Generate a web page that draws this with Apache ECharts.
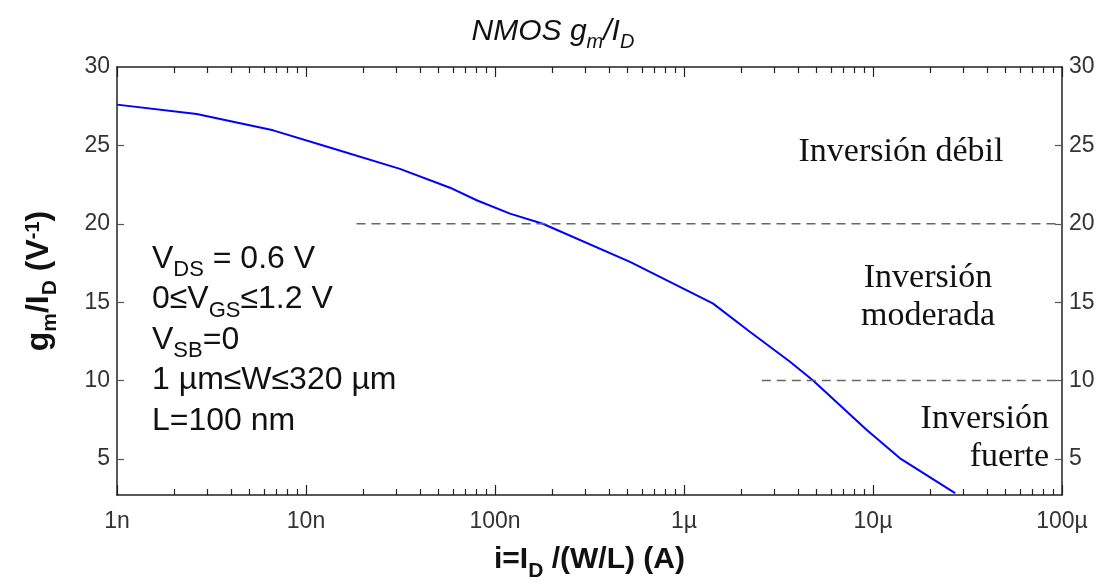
<!DOCTYPE html>
<html lang="es">
<head>
<meta charset="UTF-8">
<title>NMOS gm/ID</title>
<script src="https://cdn.jsdelivr.net/npm/echarts@6/dist/echarts.min.js"></script>
<style>html,body{margin:0;background:#fff;}</style>
</head>
<body>
<div id="main" style="width:1106px;height:584px;"></div>
<script>
// curva gm/ID
var corriente = [1e-9, 2.64e-9, 6.7e-9, 13.9e-9, 31.4e-9, 57.8e-9, 80e-9, 120e-9, 179e-9, 518e-9,
                 1.42e-6, 2.24e-6, 3.64e-6, 4.82e-6, 9.27e-6, 13.9e-6, 27.2e-6];
var gmId = [27.6, 27.0, 25.96, 24.8, 23.5, 22.3, 21.5, 20.65, 20.0, 17.57,
            14.92, 13.1, 11.2, 10.0, 6.85, 5.04, 2.82];
// limites entre regiones de inversion
var limites = [20, 10];
var inicioLimite = [18.5e-9, 2.58e-6];
var finLimite = 1e-4;
// ejes
var decadas = [1e-9, 1e-8, 1e-7, 1e-6, 1e-5, 1e-4];
var etiquetasX = ['1n', '10n', '100n', '1µ', '10µ', '100µ'];
var ticksY = [5, 10, 15, 20, 25];
var etiquetasY = [5, 10, 15, 20, 25, 30];

var menores = [];
for (var i = 0; i < decadas.length - 1; i++) {
    for (var k = 2; k <= 9; k++) menores.push(k * decadas[i]);
}

var sans = 'Liberation Sans, Arial, sans-serif';
var serif = 'Liberation Serif, Times New Roman, serif';
var negro = '#222';

function etiquetaX(v) {
    return etiquetasX[Math.round(Math.log10(v)) + 9];
}

var myChart = echarts.init(document.getElementById('main'));

function ejeX(pos, etiquetas, valores, largo, linea) {
    return {
        type: 'log', position: pos, min: 1e-9, max: 1e-4, logBase: 10,
        axisLine: {show: linea, onZero: false, lineStyle: {color: negro, width: 1.5}},
        axisTick: {show: true, inside: true, length: largo, customValues: valores,
                   lineStyle: {color: negro, width: 1.2}},
        axisLabel: etiquetas ? {
            show: true, customValues: decadas, formatter: etiquetaX, margin: 15,
            fontFamily: sans, fontSize: 23, color: '#333'
        } : {show: false},
        minorTick: {show: false}, splitLine: {show: false}
    };
}

function ejeY(pos) {
    return {
        type: 'value', position: pos, min: 2.7, max: 30,
        axisLine: {show: true, onZero: false, lineStyle: {color: negro, width: 1.5}},
        axisTick: {show: true, inside: true, length: 7, customValues: ticksY,
                   lineStyle: {color: '#555', width: 1.2}},
        axisLabel: {show: true, customValues: etiquetasY, margin: 7,
                    fontFamily: sans, fontSize: 23, color: '#333'},
        splitLine: {show: false}
    };
}

var subTxt = {
    n: {fontFamily: sans, fontSize: 32, lineHeight: 32, verticalAlign: 'top', fill: '#111'},
    s: {fontFamily: sans, fontSize: 22, lineHeight: 22, verticalAlign: 'top', padding: [16, 0, 0, 0], fill: '#111'}
};

var condiciones = [
    '{n|V}{s|DS}{n| = 0.6 V}',
    '{n|0≤V}{s|GS}{n|≤1.2 V}',
    '{n|V}{s|SB}{n|=0}',
    '{n|1 µm≤W≤320 µm}',
    '{n|L=100 nm}'
];

var graficos = condiciones.map(function (t, j) {
    return {type: 'text', left: 152, top: 243 + j * 40.5,
            style: {text: t, rich: subTxt}};
});

function region(txt, x, y, align) {
    return {type: 'text', x: x, y: y,
            style: {text: txt, fontFamily: serif, fontSize: 34, fill: '#111',
                    align: align, verticalAlign: 'middle', lineHeight: 38}};
}
graficos.push(region('Inversión débil', 901, 152, 'center'));
graficos.push(region('Inversión\nmoderada', 928, 297, 'center'));
graficos.push(region('Inversión\nfuerte', 1049, 438, 'right'));

var option = {
    backgroundColor: '#fff',
    animation: false,
    title: {
        text: '{t|NMOS g}{s|m}{t|/I}{s|D}',
        left: 'center', top: 12,
        textStyle: {
            fontWeight: 'normal',
            rich: {
                t: {fontFamily: sans, fontStyle: 'italic', fontWeight: 'normal', fontSize: 30, lineHeight: 30, verticalAlign: 'top', color: '#111'},
                s: {fontFamily: sans, fontStyle: 'italic', fontWeight: 'normal', fontSize: 20, lineHeight: 20, verticalAlign: 'top', padding: [15, 0, 0, 0], color: '#111'}
            }
        }
    },
    grid: {left: 117, right: 44, top: 67, bottom: 89, containLabel: false, outerBoundsMode: 'none'},
    xAxis: [
        Object.assign(ejeX('bottom', true, decadas, 10, true), {
            name: '{b|i=I}{s|D}{b| /(W/L) (A)}',
            nameLocation: 'middle', nameGap: 50,
            nameTextStyle: {
                rich: {
                    b: {fontFamily: sans, fontWeight: 'bold', fontSize: 30, lineHeight: 30, verticalAlign: 'top', color: '#111'},
                    s: {fontFamily: sans, fontWeight: 'bold', fontSize: 21, lineHeight: 21, verticalAlign: 'top', padding: [16, 0, 0, 0], color: '#111'}
                }
            }
        }),
        ejeX('bottom', false, menores, 6, false),
        ejeX('top', false, decadas, 10, true),
        ejeX('top', false, menores, 6, false)
    ],
    yAxis: [
        Object.assign(ejeY('left'), {
            name: '{b|g}{s|m}{b|/I}{s|D}{b| (V}{p|-1}{b|)}',
            nameLocation: 'middle', nameGap: 62,
            nameTextStyle: {
                rich: {
                    b: {fontFamily: sans, fontWeight: 'bold', fontSize: 32, lineHeight: 32, verticalAlign: 'top', color: '#111'},
                    s: {fontFamily: sans, fontWeight: 'bold', fontSize: 21, lineHeight: 21, verticalAlign: 'top', padding: [17, 0, 0, 0], color: '#111'},
                    p: {fontFamily: sans, fontWeight: 'bold', fontSize: 20, lineHeight: 20, verticalAlign: 'top', color: '#111'}
                }
            }
        }),
        ejeY('right')
    ],
    series: [
        {
            type: 'line', name: 'gm/ID', xAxisIndex: 0, yAxisIndex: 0,
            data: corriente.map(function (c, j) { return [c, gmId[j]]; }),
            showSymbol: false, smooth: false,
            lineStyle: {color: '#0000ff', width: 2}
        }
    ].concat(limites.map(function (l, j) {
        return {
            type: 'line', xAxisIndex: 0, yAxisIndex: 0, showSymbol: false,
            data: [[inicioLimite[j], l], [finLimite, l]],
            lineStyle: {color: '#666', width: 1.6, type: [9, 6]}
        };
    })),
    graphic: graficos
};

myChart.setOption(option);
</script>
</body>
</html>
